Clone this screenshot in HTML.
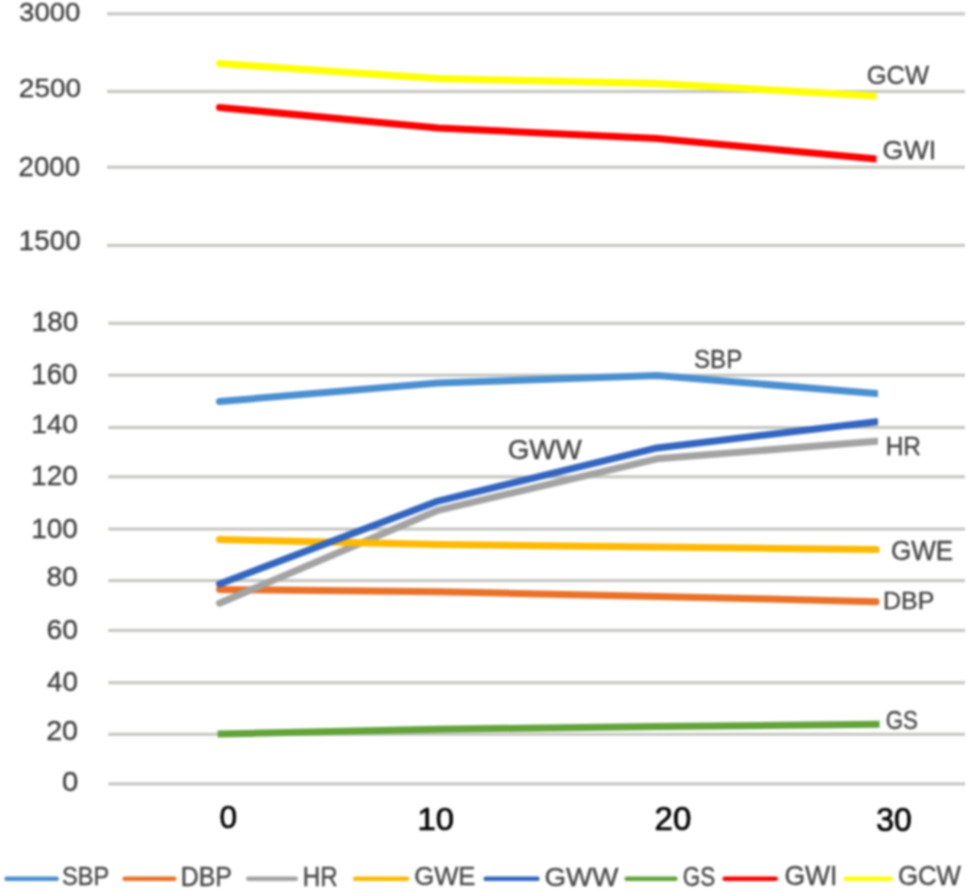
<!DOCTYPE html>
<html><head><meta charset="utf-8"><style>
html,body{margin:0;padding:0;background:#fff;}
svg{display:block;filter:blur(0.8px);}
text{font-family:"Liberation Sans",sans-serif;}
</style></head><body>
<svg width="967" height="892" viewBox="0 0 967 892">
<defs><clipPath id="pc"><rect x="0" y="0" width="878" height="892"/></clipPath></defs>
<rect width="967" height="892" fill="#fff"/>
<rect x="107" y="12.30" width="858" height="3" fill="#C4C4BF"/><rect x="107" y="90.00" width="858" height="3" fill="#C4C4BF"/><rect x="107" y="165.70" width="858" height="3" fill="#C4C4BF"/><rect x="107" y="243.90" width="858" height="3" fill="#C4C4BF"/><rect x="108.3" y="321.80" width="856.7" height="3" fill="#C4C4BF"/><rect x="108.3" y="373.70" width="856.7" height="3" fill="#C4C4BF"/><rect x="108.3" y="426.00" width="856.7" height="3" fill="#C4C4BF"/><rect x="108.3" y="475.30" width="856.7" height="3" fill="#C4C4BF"/><rect x="108.3" y="527.50" width="856.7" height="3" fill="#C4C4BF"/><rect x="108.3" y="579.10" width="856.7" height="3" fill="#C4C4BF"/><rect x="108.3" y="628.90" width="856.7" height="3" fill="#C4C4BF"/><rect x="108.3" y="681.20" width="856.7" height="3" fill="#C4C4BF"/><rect x="108.3" y="732.80" width="856.7" height="3" fill="#C4C4BF"/><rect x="108.3" y="782.40" width="856.7" height="3" fill="#C4C4BF"/>
<clipPath id="cSBP"><rect x="0" y="0" width="878" height="892"/></clipPath><polyline points="219.50,401.50 438.00,383.00 657.00,375.50 876.50,393.50" fill="none" stroke="#4A90D0" stroke-width="7" stroke-linejoin="round" stroke-linecap="round" clip-path="url(#cSBP)"/><clipPath id="cDBP"><rect x="0" y="0" width="879.4" height="892"/></clipPath><polyline points="219.50,589.50 438.00,591.70 657.00,596.40 876.50,601.70" fill="none" stroke="#E97128" stroke-width="7" stroke-linejoin="round" stroke-linecap="round" clip-path="url(#cDBP)"/><clipPath id="cHR"><rect x="0" y="0" width="878" height="892"/></clipPath><polyline points="219.50,603.20 438.00,510.30 657.00,458.80 876.50,441.20" fill="none" stroke="#A3A3A3" stroke-width="7" stroke-linejoin="round" stroke-linecap="round" clip-path="url(#cHR)"/><clipPath id="cGWE"><rect x="0" y="0" width="879.4" height="892"/></clipPath><polyline points="219.50,539.60 438.00,544.40 657.00,547.00 876.50,549.60" fill="none" stroke="#FFB900" stroke-width="7" stroke-linejoin="round" stroke-linecap="round" clip-path="url(#cGWE)"/><clipPath id="cGWW"><rect x="0" y="0" width="878" height="892"/></clipPath><polyline points="219.50,583.90 438.00,501.10 657.00,447.90 876.50,421.80" fill="none" stroke="#3366C0" stroke-width="7" stroke-linejoin="round" stroke-linecap="round" clip-path="url(#cGWW)"/><clipPath id="cGS"><rect x="0" y="0" width="879.8" height="892"/></clipPath><polyline points="217.60,734.10 438.00,729.20 657.00,726.60 879.80,724.27" fill="none" stroke="#62A33A" stroke-width="7" stroke-linejoin="round" stroke-linecap="butt" clip-path="url(#cGS)"/><clipPath id="cGWI"><rect x="0" y="0" width="876.5" height="892"/></clipPath><polyline points="219.50,107.40 438.00,128.00 657.00,138.40 876.50,159.00" fill="none" stroke="#FF0000" stroke-width="7" stroke-linejoin="round" stroke-linecap="round" clip-path="url(#cGWI)"/><clipPath id="cGCW"><rect x="0" y="0" width="876.5" height="892"/></clipPath><polyline points="219.50,63.60 438.00,78.50 657.00,83.50 876.50,96.10" fill="none" stroke="#FFFF00" stroke-width="7" stroke-linejoin="round" stroke-linecap="round" clip-path="url(#cGCW)"/>
<line x1="6.55" y1="878.7" x2="56.75" y2="878.7" stroke="#4A90D0" stroke-width="4.5" stroke-linecap="round"/><line x1="124.65" y1="878.7" x2="174.25" y2="878.7" stroke="#E97128" stroke-width="4.5" stroke-linecap="round"/><line x1="248.25" y1="878.7" x2="295.75" y2="878.7" stroke="#A3A3A3" stroke-width="4.5" stroke-linecap="round"/><line x1="355.15" y1="878.7" x2="407.25" y2="878.7" stroke="#FFB900" stroke-width="4.5" stroke-linecap="round"/><line x1="485.65" y1="878.7" x2="537.45" y2="878.7" stroke="#3366C0" stroke-width="4.5" stroke-linecap="round"/><line x1="626.65" y1="878.7" x2="675.45" y2="878.7" stroke="#62A33A" stroke-width="4.5" stroke-linecap="round"/><line x1="724.65" y1="878.7" x2="775.75" y2="878.7" stroke="#FF0000" stroke-width="4.5" stroke-linecap="round"/><line x1="845.85" y1="878.7" x2="890.65" y2="878.7" stroke="#FFFF00" stroke-width="4.5" stroke-linecap="round"/>
<text transform="translate(19.03,21.37) scale(1.0374,1)" x="-0.00" y="0" font-size="26.63" font-weight="400" fill="#3c3c3c" stroke="#3c3c3c" stroke-width="0.3">3000</text><text transform="translate(18.80,96.88) scale(1.0579,1)" x="-0.00" y="0" font-size="26.52" font-weight="400" fill="#3c3c3c" stroke="#3c3c3c" stroke-width="0.3">2500</text><text transform="translate(18.57,175.50) scale(1.0238,1)" x="-0.00" y="0" font-size="27.01" font-weight="400" fill="#3c3c3c" stroke="#3c3c3c" stroke-width="0.3">2000</text><text transform="translate(18.67,250.33) scale(1.0307,1)" x="-0.00" y="0" font-size="27.04" font-weight="400" fill="#3c3c3c" stroke="#3c3c3c" stroke-width="0.3">1500</text><text transform="translate(31.73,330.93) scale(1.0225,1)" x="-0.00" y="0" font-size="27.26" font-weight="400" fill="#3c3c3c" stroke="#3c3c3c" stroke-width="0.3">180</text><text transform="translate(31.30,383.88) scale(0.9533,1)" x="-0.00" y="0" font-size="29.06" font-weight="400" fill="#3c3c3c" stroke="#3c3c3c" stroke-width="0.3">160</text><text transform="translate(31.13,432.87) scale(1.0668,1)" x="-0.00" y="0" font-size="26.22" font-weight="400" fill="#3c3c3c" stroke="#3c3c3c" stroke-width="0.3">140</text><text transform="translate(31.12,484.86) scale(1.0277,1)" x="-0.00" y="0" font-size="27.20" font-weight="400" fill="#3c3c3c" stroke="#3c3c3c" stroke-width="0.3">120</text><text transform="translate(31.13,537.66) scale(1.0309,1)" x="-0.00" y="0" font-size="27.11" font-weight="400" fill="#3c3c3c" stroke="#3c3c3c" stroke-width="0.3">100</text><text transform="translate(46.38,586.33) scale(0.9969,1)" x="-0.00" y="0" font-size="28.40" font-weight="400" fill="#3c3c3c" stroke="#3c3c3c" stroke-width="0.3">80</text><text transform="translate(46.43,638.78) scale(1.0063,1)" x="-0.00" y="0" font-size="28.14" font-weight="400" fill="#3c3c3c" stroke="#3c3c3c" stroke-width="0.3">60</text><text transform="translate(47.09,690.89) scale(0.9774,1)" x="-0.00" y="0" font-size="28.31" font-weight="400" fill="#3c3c3c" stroke="#3c3c3c" stroke-width="0.3">40</text><text transform="translate(46.14,740.37) scale(1.0497,1)" x="-0.00" y="0" font-size="27.27" font-weight="400" fill="#3c3c3c" stroke="#3c3c3c" stroke-width="0.3">20</text><text transform="translate(61.89,791.48) scale(1.0935,1)" x="-0.00" y="0" font-size="26.84" font-weight="400" fill="#3c3c3c" stroke="#3c3c3c" stroke-width="0.3">0</text><text transform="translate(866.67,84.40) scale(0.9825,1)" x="-0.00" y="0" font-size="25.96" font-weight="400" fill="#454545" stroke="#454545" stroke-width="0.35">GCW</text><text transform="translate(882.52,159.39) scale(1.0123,1)" x="-0.00" y="0" font-size="26.56" font-weight="400" fill="#454545" stroke="#454545" stroke-width="0.35">GWI</text><text transform="translate(693.95,367.53) scale(0.9653,1)" x="-0.00" y="0" font-size="25.00" font-weight="400" fill="#454545" stroke="#454545" stroke-width="0.35">SBP</text><text transform="translate(507.73,459.07) scale(0.9946,1)" x="-0.00" y="0" font-size="27.98" font-weight="400" fill="#454545" stroke="#454545" stroke-width="0.35">GWW</text><text transform="translate(885.75,455.49) scale(0.9735,1)" x="-0.00" y="0" font-size="25.08" font-weight="400" fill="#454545" stroke="#454545" stroke-width="0.35">HR</text><text transform="translate(890.95,560.31) scale(0.9721,1)" x="-0.00" y="0" font-size="26.82" font-weight="400" fill="#454545" stroke="#454545" stroke-width="0.35">GWE</text><text transform="translate(883.09,609.42) scale(1.0050,1)" x="-0.00" y="0" font-size="24.80" font-weight="400" fill="#454545" stroke="#454545" stroke-width="0.35">DBP</text><text transform="translate(885.79,729.28) scale(0.8458,1)" x="-0.00" y="0" font-size="26.33" font-weight="400" fill="#454545" stroke="#454545" stroke-width="0.35">GS</text><text transform="translate(219.41,827.79) scale(0.9903,1)" x="-0.00" y="0" font-size="32.01" font-weight="400" fill="#000000" stroke="#000000" stroke-width="0.7">0</text><text transform="translate(417.46,830.29) scale(1.0387,1)" x="-0.00" y="0" font-size="31.69" font-weight="400" fill="#000000" stroke="#000000" stroke-width="0.7">10</text><text transform="translate(654.60,830.28) scale(1.0144,1)" x="-0.00" y="0" font-size="32.56" font-weight="400" fill="#000000" stroke="#000000" stroke-width="0.7">20</text><text transform="translate(876.13,830.92) scale(0.9838,1)" x="-0.00" y="0" font-size="32.50" font-weight="400" fill="#000000" stroke="#000000" stroke-width="0.7">30</text><text transform="translate(62.11,885.29) scale(0.8873,1)" x="-0.00" y="0" font-size="26.59" font-weight="400" fill="#484848" stroke="#484848" stroke-width="0.4">SBP</text><text transform="translate(180.68,885.56) scale(0.9158,1)" x="-0.00" y="0" font-size="27.22" font-weight="400" fill="#484848" stroke="#484848" stroke-width="0.4">DBP</text><text transform="translate(302.78,885.79) scale(0.8790,1)" x="-0.00" y="0" font-size="27.55" font-weight="400" fill="#484848" stroke="#484848" stroke-width="0.4">HR</text><text transform="translate(414.23,885.29) scale(0.9647,1)" x="-0.00" y="0" font-size="26.59" font-weight="400" fill="#484848" stroke="#484848" stroke-width="0.4">GWE</text><text transform="translate(544.38,885.78) scale(1.0405,1)" x="-0.00" y="0" font-size="26.67" font-weight="400" fill="#484848" stroke="#484848" stroke-width="0.4">GWW</text><text transform="translate(682.68,885.79) scale(0.8131,1)" x="-0.00" y="0" font-size="27.61" font-weight="400" fill="#484848" stroke="#484848" stroke-width="0.4">GS</text><text transform="translate(784.46,885.38) scale(0.9804,1)" x="-0.00" y="0" font-size="27.06" font-weight="400" fill="#484848" stroke="#484848" stroke-width="0.4">GWI</text><text transform="translate(897.91,885.37) scale(0.9513,1)" x="-0.00" y="0" font-size="27.12" font-weight="400" fill="#484848" stroke="#484848" stroke-width="0.4">GCW</text>
</svg>
</body></html>
